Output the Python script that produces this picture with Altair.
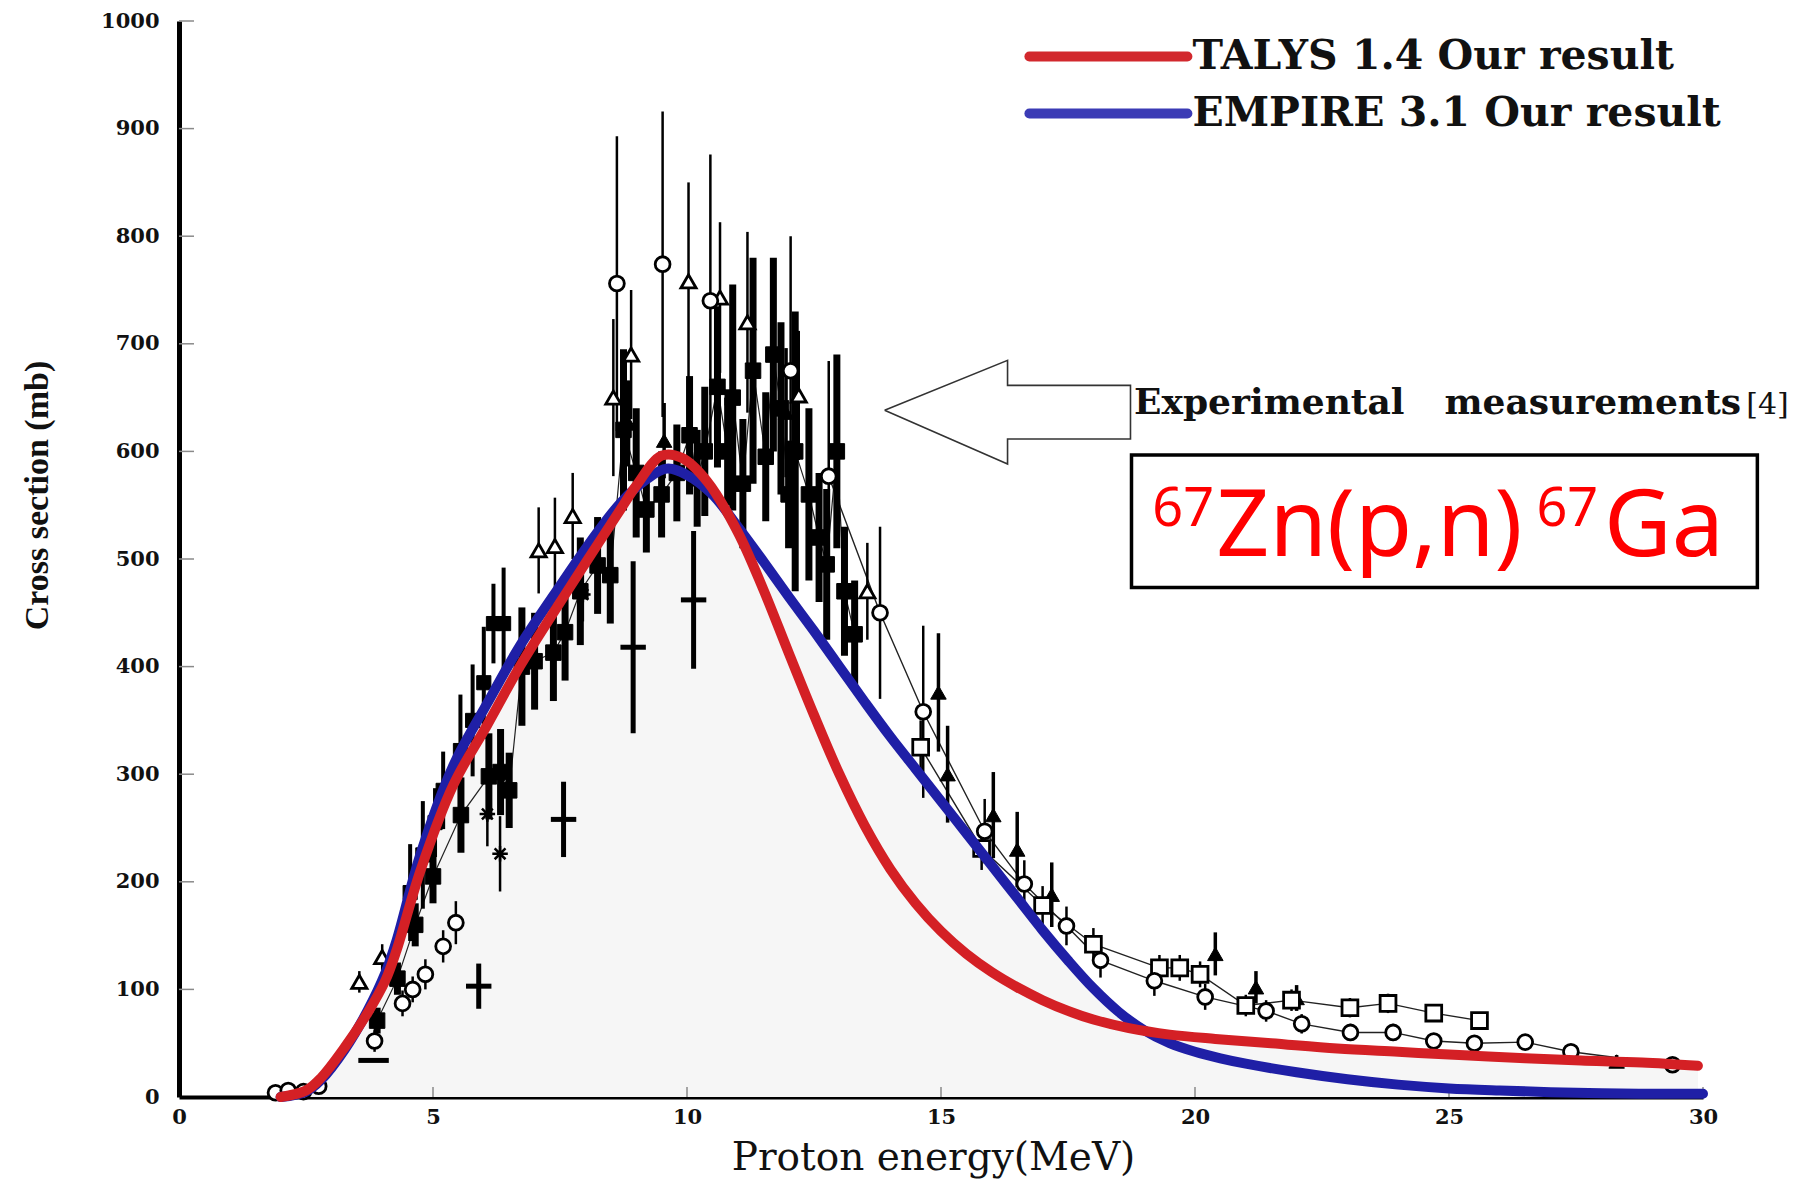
import altair as alt
import pandas as pd

# ---------------- model curves ----------------
TALYS_E = [2.0, 2.5, 2.8, 3.26, 3.71, 4.06, 4.28, 4.75, 5.4, 6.07, 6.72, 7.37, 8.04, 8.69, 9.0, 9.5,
           9.9, 10.4, 11.0, 11.5, 12.0, 12.5, 13.0, 13.5, 14.0, 14.5, 15.0, 15.5, 16.0, 16.5, 17.0, 17.5,
           18.0, 18.7, 19.5, 20.4, 21.5, 22.8, 24.0, 25.2, 26.5, 27.6, 28.8, 29.9]
TALYS_S = [0, 6, 18, 46, 78, 108, 136, 210, 290, 346, 401, 450, 499, 546, 568, 596,
           594, 572, 525, 472, 413, 355, 300, 252, 212, 180, 154, 133, 116, 102, 90, 80,
           72, 64, 58, 54, 50, 45, 42, 39, 36, 34, 32, 29]

EMPIRE_E = [2.0, 2.5, 2.8, 3.26, 3.71, 4.06, 4.28, 4.75, 5.4, 6.07, 6.72, 7.37, 8.04, 8.69, 9.2, 9.6,
            10.0, 10.5, 11.0, 11.5, 12.0, 12.5, 13.0, 13.5, 14.0, 14.5, 15.0, 15.5, 16.0, 16.5, 17.0,
            17.5, 18.0, 18.5, 19.0, 19.5, 20.0, 20.5, 21.0, 22.0, 23.0, 24.0, 25.0, 26.0, 27.0, 28.0,
            29.0, 30.0]
EMPIRE_S = [0, 5, 16, 44, 80, 115, 145, 225, 308, 366, 420, 466, 512, 552, 574, 584,
            578, 560, 530, 498, 465, 433, 400, 367, 335, 305, 275, 245, 215, 185, 155,
            127, 101, 79, 62, 50, 42, 36, 31, 23, 16.5, 11.5, 8, 6, 4.5, 3.5,
            3, 3]

# ---------------- experimental data (several data sets) ----------------
# open circles, thin error bars
A_E = [1.9, 2.15, 2.45, 2.75, 3.85, 4.4, 4.6, 4.85, 5.2, 5.45, 8.62, 9.52, 10.46, 12.04, 12.79,
       13.8, 14.65, 15.86, 16.64, 17.47, 18.14, 19.2, 20.2, 21.4, 22.1, 23.06, 23.9, 24.7, 25.5,
       26.5, 27.4, 29.4]
A_S = [4, 6, 5, 10, 52, 87, 100, 114, 140, 162, 756, 774, 740, 675, 577,
       450, 358, 247, 198, 159, 127, 108, 93, 80, 68, 60, 60, 52, 50,
       51, 42, 30]
A_ERR = [3, 3, 3, 4, 10, 12, 12, 14, 15, 20, 137, 142, 136, 125, 107,
         80, 80, 30, 22, 18, 16, 14, 12, 10, 9, 8, 8, 7, 7,
         6, 5, 5]

# filled squares, thick error bars
B_E = [3.9, 4.3, 4.65, 5.0, 5.55, 6.1, 6.33, 6.5, 6.75, 7.0, 7.37, 7.6, 7.9, 8.24, 8.49,
       8.75, 9.0, 9.2, 9.5, 9.8, 10.05, 10.2, 10.35, 10.6, 10.8, 10.9, 11.1, 11.3, 11.55, 11.7,
       11.85, 12.0, 12.13, 12.4, 12.6, 12.75, 12.95, 13.1, 13.3]
B_S = [71, 110, 160, 205, 262, 298, 302, 285, 400, 405, 413, 432, 470, 494, 485,
       620, 580, 546, 560, 580, 615, 575, 600, 660, 600, 650, 570, 675, 595, 690,
       640, 560, 600, 560, 520, 495, 600, 470, 430]
B_ERR = [12, 15, 20, 25, 35, 40, 40, 35, 55, 45, 45, 45, 50, 45, 45,
         75, 60, 40, 40, 45, 55, 45, 60, 75, 50, 105, 60, 105, 60, 90,
         80, 50, 130, 80, 60, 70, 90, 60, 50]

# open triangles
C_E = [3.55, 4.0, 7.08, 7.4, 7.75, 8.55, 8.9, 10.03, 10.65, 11.19, 12.2, 13.55]
C_S = [107, 130, 508, 512, 540, 650, 690, 758, 743, 720, 652, 470]
C_ERR = [10, 12, 40, 45, 40, 73, 60, 92, 70, 84, 60, 45]

# filled triangles
D_E = [8.85, 9.55, 11.95, 14.95, 15.13, 16.03, 16.5, 17.18, 20.4, 21.2, 22.0, 28.3]
D_S = [626, 610, 636, 376, 300, 262, 230, 188, 133, 102, 92, 33]
D_ERR = [40, 35, 60, 55, 45, 40, 35, 30, 20, 15, 12, 6]

# open squares (tail), joined by a thin line
E_E = [14.6, 15.8, 17.0, 18.0, 19.3, 19.7, 20.1, 21.0, 21.9, 23.05, 23.8, 24.7, 25.6]
E_S = [325, 231, 178, 142, 120, 120, 114, 85, 90, 83, 87, 78, 71]
E_ERR = [25, 20, 18, 15, 12, 12, 12, 10, 10, 9, 9, 8, 8]

# crosses with energy bars
F_E = [3.83, 5.9, 7.57, 8.94, 10.13]
F_S = [34, 103, 258, 418, 462]
F_YERR = [0, 21, 35, 80, 64]
F_XERR = [0.3, 0.25, 0.25, 0.25, 0.25]

# asterisks
G_E = [6.07, 6.32, 7.95]
G_S = [263, 226, 467]
G_ERR = [30, 35, 25]

# filled squares hidden under the TALYS curve
H_E = [4.55, 4.8, 5.04, 5.2, 5.54, 5.78, 6.0, 6.19, 6.39]
H_S = [190, 225, 255, 285, 322, 350, 385, 440, 440]
H_ERR = [45, 50, 32, 36, 52, 52, 52, 37, 52]

X_TICKS = [0, 5, 10, 15, 20, 25, 30]
Y_TICKS = [0, 100, 200, 300, 400, 500, 600, 700, 800, 900, 1000]

LEGEND_LABELS = ["TALYS 1.4 Our result", "EMPIRE 3.1 Our result"]
ANNOT_WORDS = ["Experimental", "measurements"]
ANNOT_REF = "[4]"
REACTION_PARTS = ["67", "Zn(p,n)", "67", "Ga"]

# ---------------- layout / style ----------------
W, H = 1524, 1076
RED, BLUE = "#d42025", "#1f1fa6"
SERIF_W = "DejaVu Serif"

xs = alt.Scale(domain=[0, 30], nice=False, zero=False)
ys = alt.Scale(domain=[0, 1000], nice=False)

xaxis = alt.Axis(values=X_TICKS, title="Proton energy(MeV)", grid=False, ticks=False, tickSize=0,
                 domainColor="black", domainWidth=4, labelFont=SERIF_W, labelFontWeight="bold",
                 labelFontSize=21, labelColor="#111", labelPadding=9, labelFlush=False,
                 labelOverlap=False, format="d",
                 titleFont=SERIF_W, titleFontSize=39, titleFontWeight="normal", titleColor="#111",
                 titleX=754, titleY=72, titleAlign="center", titleBaseline="alphabetic")
yaxis = alt.Axis(values=Y_TICKS, title="Cross section (mb)", grid=False, ticks=False, tickSize=0,
                 domainColor="black", domainWidth=5, labelFont=SERIF_W, labelFontWeight="bold",
                 labelFontSize=21, labelColor="#111", labelPadding=20, labelFlush=False,
                 labelOverlap=False, format="d",
                 titleFont="Liberation Serif", titleFontSize=34, titleFontWeight="bold",
                 titleColor="#111", titleX=-142, titleY=474, titleAngle=270,
                 titleAlign="center", titleBaseline="middle")


def X(f):
    return alt.X(f, type="quantitative", scale=xs, axis=xaxis)


def Y(f):
    return alt.Y(f, type="quantitative", scale=ys, axis=yaxis)


def df3(e, s, err):
    return pd.DataFrame({"x": e, "y": s, "e": err})


talys = pd.DataFrame({"x": TALYS_E, "y": TALYS_S})
empire = pd.DataFrame({"x": EMPIRE_E, "y": EMPIRE_S})
dA, dB, dC, dD = df3(A_E, A_S, A_ERR), df3(B_E, B_S, B_ERR), df3(C_E, C_S, C_ERR), df3(D_E, D_S, D_ERR)
dE, dG, dH = df3(E_E, E_S, E_ERR), df3(G_E, G_S, G_ERR), df3(H_E, H_S, H_ERR)
dF = pd.DataFrame({"x": F_E, "y": F_S, "e": F_YERR, "ex": F_XERR})

layers = []

# faint fill under the model curves
layers.append(alt.Chart(empire).mark_area(color="#f6f6f6", interpolate="catmull-rom").encode(x=X("x"), y=Y("y")))
layers.append(alt.Chart(talys).mark_area(color="#f6f6f6", interpolate="catmull-rom").encode(x=X("x"), y=Y("y")))

# inward tick marks
layers.append(alt.Chart(pd.DataFrame({"v": Y_TICKS[1:]})).mark_rule(color="#8a8a8a", strokeWidth=1.5)
              .encode(y=Y("v"), x=alt.value(0), x2=alt.value(15)))
layers.append(alt.Chart(pd.DataFrame({"v": X_TICKS[1:]})).mark_rule(color="#8a8a8a", strokeWidth=1.5)
              .encode(x=X("v"), y=alt.value(H), y2=alt.value(H - 10)))

# thin connecting lines through tail data
layers.append(alt.Chart(dA).transform_filter("datum.x >= 12.5").mark_line(color="#222", strokeWidth=1.4)
              .encode(x=X("x"), y=Y("y")))
layers.append(alt.Chart(dE).mark_line(color="#222", strokeWidth=1.4).encode(x=X("x"), y=Y("y")))
layers.append(alt.Chart(dB).mark_line(color="#222", strokeWidth=1.2).encode(x=X("x"), y=Y("y")))


def ebar(d, w):
    return (alt.Chart(d).transform_calculate(lo="datum.y - datum.e", hi="datum.y + datum.e")
            .mark_rule(color="black", strokeWidth=w)
            .encode(x=X("x"), y=Y("lo"), y2=alt.Y2("hi")))


layers += [ebar(dA, 2.5), ebar(dC, 2.5), ebar(dD, 3.5), ebar(dE, 2.5), ebar(dG, 2.5), ebar(dH, 4),
           ebar(dB, 7), ebar(dF, 5)]
layers.append(alt.Chart(dF).transform_calculate(lo="datum.x - datum.ex", hi="datum.x + datum.ex")
              .mark_rule(color="black", strokeWidth=5)
              .encode(x=X("lo"), x2=alt.X2("hi"), y=Y("y")))


def pts(d, shape, size, filled):
    if filled:
        m = alt.Chart(d).mark_point(shape=shape, size=size, filled=True, fill="black", stroke="black",
                                    strokeWidth=1, opacity=1)
    else:
        m = alt.Chart(d).mark_point(shape=shape, size=size, filled=True, fill="white", stroke="black",
                                    strokeWidth=2.8, opacity=1, fillOpacity=1)
    return m.encode(x=X("x"), y=Y("y"))


layers += [pts(dB, "square", 240, True), pts(dH, "square", 200, True), pts(dD, "triangle-up", 240, True),
           pts(dC, "triangle-up", 230, False), pts(dE, "square", 250, False), pts(dA, "circle", 220, False)]
layers.append(alt.Chart(dG).mark_point(shape="M-1,0L1,0M0,-1L0,1M-0.7,-0.7L0.7,0.7M-0.7,0.7L0.7,-0.7",
                                       size=240, filled=False, stroke="black", strokeWidth=2.5, opacity=1)
              .encode(x=X("x"), y=Y("y")))

# model curves
layers.append(alt.Chart(empire).mark_line(color=BLUE, strokeWidth=10, strokeCap="round", strokeJoin="round",
                                          interpolate="catmull-rom").encode(x=X("x"), y=Y("y")))
layers.append(alt.Chart(talys).mark_line(color=RED, strokeWidth=10, strokeCap="round", strokeJoin="round",
                                         interpolate="catmull-rom").encode(x=X("x"), y=Y("y")))

# legend (drawn in data space, top right)
leg = pd.DataFrame({"x1": [16.74, 16.74], "x2": [19.85, 19.85], "y": [967, 914],
                    "c": ["#d2282d", "#3b3bb5"], "label": LEGEND_LABELS, "tx": [19.95, 19.95]})
layers.append(alt.Chart(leg).mark_rule(strokeWidth=10, strokeCap="round")
              .encode(x=X("x1"), x2=alt.X2("x2"), y=Y("y"), color=alt.Color("c", scale=None)))
layers.append(alt.Chart(leg).mark_text(align="left", baseline="middle", font=SERIF_W, fontSize=41,
                                       fontWeight="bold", color="#111", dy=0)
              .encode(x=X("tx"), y=Y("y"), text="label"))

# hollow arrow
arrow = pd.DataFrame({"x": [13.89, 16.31, 16.31, 18.73, 18.73, 16.31, 16.31, 13.89],
                      "y": [638.3, 684.6, 661.4, 661.4, 611.5, 611.5, 588.3, 638.3],
                      "o": list(range(8))})
layers.append(alt.Chart(arrow).mark_line(color="#333", strokeWidth=1.6)
              .encode(x=X("x"), y=Y("y"), order="o"))

# "Experimental measurements [4]"
words = pd.DataFrame({"x": [18.8, 30.75], "y": [635, 635], "t": ANNOT_WORDS, "a": ["left", "right"]})
layers.append(alt.Chart(words).transform_filter("datum.a == 'left'")
              .mark_text(align="left", baseline="alphabetic", font=SERIF_W, fontSize=36, fontWeight="bold",
                         color="#111").encode(x=X("x"), y=Y("y"), text="t"))
layers.append(alt.Chart(words).transform_filter("datum.a == 'right'")
              .mark_text(align="right", baseline="alphabetic", font=SERIF_W, fontSize=36, fontWeight="bold",
                         color="#111").encode(x=X("x"), y=Y("y"), text="t"))
layers.append(alt.Chart(pd.DataFrame({"x": [30.85], "y": [635], "t": [ANNOT_REF]}))
              .mark_text(align="left", baseline="alphabetic", font=SERIF_W, fontSize=30, color="#111")
              .encode(x=X("x"), y=Y("y"), text="t"))

# reaction box
box = pd.DataFrame({"x1": [18.75], "x2": [31.07], "y1": [473.6], "y2": [596.7]})
layers.append(alt.Chart(box).mark_rect(fill="white", stroke="black", strokeWidth=3.5)
              .encode(x=X("x1"), x2=alt.X2("x2"), y=Y("y1"), y2=alt.Y2("y2")))
rx = pd.DataFrame({"x": [19.16, 20.42, 26.72, 28.05], "y": [531, 503, 531, 503],
                   "t": REACTION_PARTS, "fs": [54, 93, 54, 93]})
layers.append(alt.Chart(rx).mark_text(align="left", baseline="alphabetic", font="Noto Sans", color="#ff0000")
              .encode(x=X("x"), y=Y("y"), text="t", size=alt.Size("fs", scale=None)))

chart = (alt.layer(*layers)
         .properties(width=W, height=H, autosize=alt.AutoSizeParams(type="none"), background="white",
                     padding={"left": 171, "top": 13, "right": 92, "bottom": 82})
         .configure_view(stroke="transparent", strokeWidth=0))

chart.save("out.html", embed_options={"renderer": "svg", "actions": False})
